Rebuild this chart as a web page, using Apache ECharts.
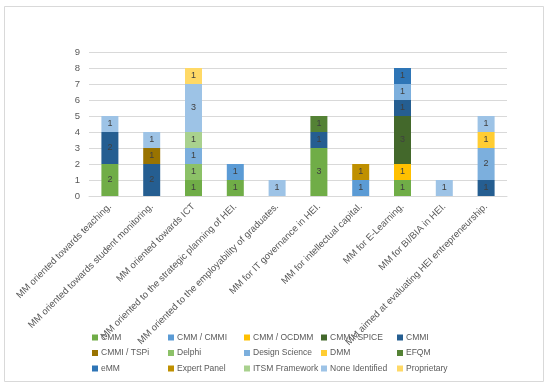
<!DOCTYPE html>
<html><head><meta charset="utf-8">
<script src="https://cdn.jsdelivr.net/npm/echarts@6/dist/echarts.min.js"></script>
<style>html,body{margin:0;padding:0;background:#fff}#c{width:550px;height:388px}</style>
</head><body><div id="c"></div>
<script>
var categories = ["MM oriented towards teaching.","MM oriented towards student monitoring.","MM oriented towards ICT","MM oriented to the strategic planning of HEI.","MM oriented to the employability of graduates.","MM for IT governance in HEI.","MM for intellectual capital.","MM for E-Learning.","MM for BI/BIA in HEI.","MM aimed at evaluating HEI entrepreneurship."];
var seriesNames = ["CMM","CMM / CMMI","CMM / OCDMM","CMM / SPICE","CMMI","CMMI / TSPi","Delphi","Design Science","DMM","EFQM","eMM","Expert Panel","ITSM Framework","None Identified","Proprietary"];
var CMM        = [2,null,1,1,null,3,null,1,null,null];
var CMM_CMMI   = [null,null,null,1,null,null,1,null,null,null];
var CMM_OCDMM  = [null,null,null,null,null,null,null,1,null,null];
var CMM_SPICE  = [null,null,null,null,null,null,null,3,null,null];
var CMMI       = [2,2,null,null,null,1,null,1,null,1];
var CMMI_TSPi  = [null,1,null,null,null,null,null,null,null,null];
var Delphi     = [null,null,1,null,null,null,null,null,null,null];
var DesignSci  = [null,null,1,null,null,null,null,1,null,2];
var DMM        = [null,null,null,null,null,null,null,null,null,1];
var EFQM       = [null,null,null,null,null,1,null,null,null,null];
var eMM        = [null,null,null,null,null,null,null,1,null,null];
var ExpertPanel= [null,null,null,null,null,null,1,null,null,null];
var ITSM       = [null,null,1,null,null,null,null,null,null,null];
var NoneIdent  = [1,1,3,null,1,null,null,null,1,1];
var Proprietary= [null,null,1,null,null,null,null,null,null,null];
var yTicks = [0,1,2,3,4,5,6,7,8,9];

var values = [CMM,CMM_CMMI,CMM_OCDMM,CMM_SPICE,CMMI,CMMI_TSPi,Delphi,DesignSci,DMM,EFQM,eMM,ExpertPanel,ITSM,NoneIdent,Proprietary];
var colors = ["#70AD47","#5B9BD5","#FFC000","#43682B","#255E91","#997300","#8CC168","#7CAFDD","#FFCD33","#548235","#2E75B6","#BF9000","#A9D18E","#9DC3E6","#FFD966"];

var series = seriesNames.map(function(n,i){
  return {name:n,type:'bar',stack:'s',data:values[i],barWidth:17,
    itemStyle:{color:colors[i]},
    label:{show:true,position:'inside',color:'#404040',fontSize:9,fontFamily:'Liberation Sans, Arial'}};
});

var legends = [];
var colX = [87,163,239,316,392];
for (var c=0;c<5;c++){
  legends.push({orient:'vertical',left:colX[c],top:328,itemWidth:6,itemHeight:6,itemGap:6.5,
    icon:'rect',data:[seriesNames[c],seriesNames[c+5],seriesNames[c+10]],
    textStyle:{color:'#595959',fontSize:8.5,fontFamily:'Liberation Sans, Arial',padding:[0,0,0,-2]},
    selectedMode:false});
}

var chart = echarts.init(document.getElementById('c'));
chart.setOption({
  animation:false,
  backgroundColor:'#fff',
  graphic:[{type:'rect',shape:{x:4.5,y:6.5,width:539,height:375},style:{fill:'none',stroke:'#D9D9D9',lineWidth:1}}],
  grid:{left:89,right:43,top:52,bottom:192},
  legend:legends,
  xAxis:{type:'category',data:categories,
    axisLine:{lineStyle:{color:'#D9D9D9'}},axisTick:{show:false},
    axisLabel:{rotate:45,interval:0,color:'#595959',fontSize:9.5,fontFamily:'Liberation Sans, Arial',margin:9}},
  yAxis:{type:'value',min:yTicks[0],max:yTicks[yTicks.length-1],interval:1,
    axisLine:{show:false},axisTick:{show:false},
    splitLine:{lineStyle:{color:'#D9D9D9'}},
    axisLabel:{color:'#595959',fontSize:9.5,fontFamily:'Liberation Sans, Arial',margin:9}},
  series:series
});
</script></body></html>
